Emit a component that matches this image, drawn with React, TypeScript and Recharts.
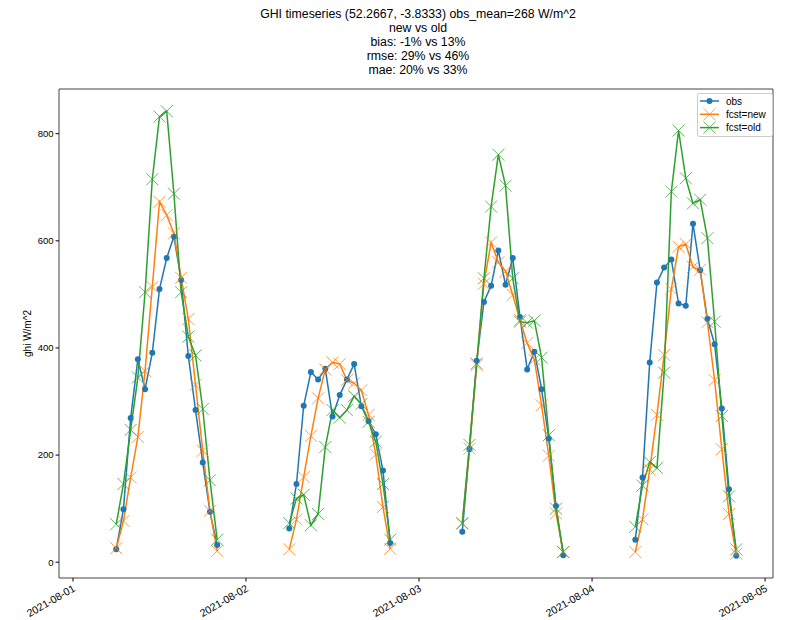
import React from "react";
import { LineChart, Line, XAxis, YAxis, ReferenceArea } from "recharts";

// hourly values, 06:00 .. 20:00 each day
const HOURS = [6, 7, 8, 9, 10, 11, 12, 13, 14, 15, 16, 17, 18, 19, 20];
const DAY_TICKS = [0, 24, 48, 72, 96];
const DAY_LABELS = ["2021-08-01", "2021-08-02", "2021-08-03", "2021-08-04", "2021-08-05"];
const Y_TICKS = [0, 200, 400, 600, 800];

const TITLE_LINES = [
  "GHI timeseries (52.2667, -3.8333) obs_mean=268 W/m^2",
  "new vs old",
  "bias: -1% vs 13%",
  "rmse: 29% vs 46%",
  "mae: 20% vs 33%",
];

const obs = [
  [24, 99, 269, 379, 323, 391, 510, 568, 608, 527, 385, 284, 186, 94, 32],
  [63, 146, 292, 355, 341, 361, 272, 312, 341, 370, 291, 263, 239, 171, 36],
  [57, 211, 376, 486, 516, 582, 518, 568, 458, 360, 393, 323, 231, 105, 13],
  [42, 158, 373, 522, 550, 565, 483, 479, 632, 545, 454, 407, 287, 136, 12],
];

const fcstNew = [
  [26, 77, 158, 234, 357, 514, 673, 648, 614, 531, 454, 331, 208, 96, 21],
  [24, 80, 159, 236, 306, 360, 373, 370, 340, 334, 321, 275, 201, 103, 25],
  [72, 212, 368, 520, 597, 560, 543, 499, 452, 409, 378, 293, 199, 91, 19],
  [19, 80, 173, 275, 387, 510, 589, 594, 551, 546, 448, 340, 211, 90, 16],
];

const fcstOld = [
  [71, 146, 247, 345, 504, 715, 832, 842, 688, 504, 421, 386, 286, 153, 42],
  [73, 119, 126, 69, 90, 215, 284, 270, 284, 310, 295, 262, 225, 146, 42],
  [73, 219, 371, 530, 664, 761, 703, 530, 449, 447, 451, 382, 237, 100, 19],
  [66, 143, 187, 176, 354, 692, 806, 717, 670, 677, 605, 449, 273, 123, 24],
];

const BLUE = "#1f77b4";
const ORANGE = "#ff7f0e";
const GREEN = "#2ca02c";
const FONT = "'Liberation Sans', Arial, sans-serif";

const X_DOMAIN = [-1.94, 97.1];
const Y_DOMAIN = [-29.5, 883.5];

// one row per hour, with an empty row after each day so the lines break overnight
const rows: any[] = [];
obs.forEach((day, d) => {
  HOURS.forEach((h, i) => {
    rows.push({ t: d * 24 + h, obs: day[i], fnew: fcstNew[d][i], fold: fcstOld[d][i] });
  });
  if (d < obs.length - 1) rows.push({ t: d * 24 + 22, obs: null, fnew: null, fold: null });
});

const crossDot = (color: string) => (props: any) => {
  const { cx, cy, index } = props;
  if (cx == null || cy == null || props.value == null) return <g key={`x-${index}`} />;
  const s = 6;
  return (
    <g key={`x-${index}`} stroke={color} strokeWidth={1} strokeOpacity={0.75}>
      <line x1={cx - s} y1={cy - s} x2={cx + s} y2={cy + s} />
      <line x1={cx - s} y1={cy + s} x2={cx + s} y2={cy - s} />
    </g>
  );
};

const DateTick = ({ x, y, payload }: any) => {
  const idx = DAY_TICKS.indexOf(payload.value);
  return (
    <text
      x={x + 3}
      y={y + 7}
      transform={`rotate(-30, ${x + 3}, ${y + 7})`}
      textAnchor="end"
      fontSize={10.5}
      fontFamily={FONT}
      fill="#000"
    >
      {DAY_LABELS[idx]}
    </text>
  );
};

const LEGEND_ITEMS = [
  { label: "obs", color: BLUE, kind: "dot" },
  { label: "fcst=new", color: ORANGE, kind: "x" },
  { label: "fcst=old", color: GREEN, kind: "x" },
];

const LegendBox = () => (
  <svg width={76} height={44} style={{ display: "block" }}>
    <rect x={0.5} y={0.5} width={75} height={43} rx={2} fill="#fff" fillOpacity={0.8} stroke="#ccc" />
    {LEGEND_ITEMS.map((it, i) => {
      const y = 8 + i * 13.3;
      return (
        <g key={it.label}>
          <line x1={3} x2={22} y1={y} y2={y} stroke={it.color} strokeWidth={1.5} />
          {it.kind === "dot" ? (
            <circle cx={12.5} cy={y} r={3} fill={it.color} />
          ) : (
            <g stroke={it.color} strokeWidth={1} strokeOpacity={0.75}>
              <line x1={6.5} y1={y - 6} x2={18.5} y2={y + 6} />
              <line x1={6.5} y1={y + 6} x2={18.5} y2={y - 6} />
            </g>
          )}
          <text x={29} y={y + 3.5} fontSize={10} fontFamily={FONT} fill="#000">
            {it.label}
          </text>
        </g>
      );
    })}
  </svg>
);

export default function App() {
  return (
    <div style={{ position: "absolute", left: 0, top: 0, width: 788, height: 620, background: "#fff", fontFamily: FONT }}>
      <div
        style={{
          position: "absolute",
          left: 218,
          width: 400,
          top: 8,
          textAlign: "center",
          fontSize: 12.3,
          lineHeight: "13.9px",
          color: "#000",
        }}
      >
        {TITLE_LINES.map((l) => (
          <div key={l}>{l}</div>
        ))}
      </div>
      <LineChart width={788} height={620} data={rows} margin={{ top: 89, right: 15, left: 0, bottom: 0 }}>
        <XAxis
          dataKey="t"
          type="number"
          domain={X_DOMAIN}
          allowDataOverflow
          ticks={DAY_TICKS}
          tick={<DateTick />}
          tickSize={3.5}
          height={42}
          axisLine={false}
          tickLine={{ stroke: "#000" }}
        />
        <YAxis
          type="number"
          domain={Y_DOMAIN}
          allowDataOverflow
          ticks={Y_TICKS}
          width={59}
          tickSize={3.5}
          axisLine={false}
          tickLine={{ stroke: "#000" }}
          tick={{ fontSize: 9.5, fontFamily: FONT, fill: "#000" }}
          label={{ value: "ghi W/m^2", angle: -90, position: "insideLeft", offset: 27, style: { fontSize: 10, fontFamily: FONT, fill: "#000", textAnchor: "middle" } }}
        />
        <ReferenceArea x1={X_DOMAIN[0]} x2={X_DOMAIN[1]} y1={Y_DOMAIN[0]} y2={Y_DOMAIN[1]} fill="none" stroke="#444" strokeWidth={1} />
        <Line
          dataKey="obs"
          name="obs"
          stroke={BLUE}
          strokeWidth={1.5}
          dot={{ r: 3, fill: BLUE, stroke: BLUE, strokeWidth: 0 }}
          isAnimationActive={false}
        />
        <Line dataKey="fnew" name="fcst=new" stroke={ORANGE} strokeWidth={1.5} dot={crossDot(ORANGE)} isAnimationActive={false} />
        <Line dataKey="fold" name="fcst=old" stroke={GREEN} strokeWidth={1.5} dot={crossDot(GREEN)} isAnimationActive={false} />
      </LineChart>
      <div style={{ position: "absolute", top: 93, left: 697 }}>
        <LegendBox />
      </div>
    </div>
  );
}
